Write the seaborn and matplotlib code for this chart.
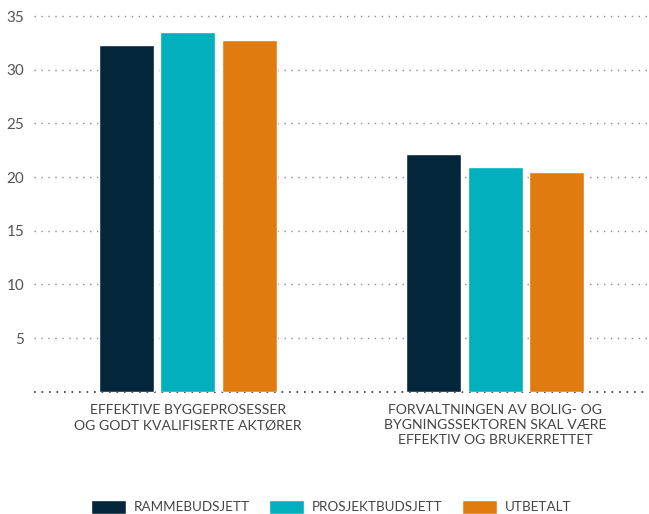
import matplotlib
matplotlib.use("Agg")
import matplotlib.pyplot as plt
import seaborn as sns
import pandas as pd

categories = [
    "EFFEKTIVE BYGGEPROSESSER\nOG GODT KVALIFISERTE AKTØRER",
    "FORVALTNINGEN AV BOLIG- OG\nBYGNINGSSEKTOREN SKAL VÆRE\nEFFEKTIV OG BRUKERRETTET",
]
series = ["RAMMEBUDSJETT", "PROSJEKTBUDSJETT", "UTBETALT"]
rammebudsjett = [32.3, 22.1]
prosjektbudsjett = [33.5, 20.9]
utbetalt = [32.8, 20.5]
y_ticks = [5, 10, 15, 20, 25, 30, 35]
colors = ["#03263b", "#01afbd", "#e07b10"]

df = pd.DataFrame({
    "kategori": categories * 3,
    "serie": [s for s in series for _ in categories],
    "verdi": rammebudsjett + prosjektbudsjett + utbetalt,
})

sns.set_theme(style="white")
plt.rcParams["font.family"] = ["Lato", "DejaVu Sans"]

fig = plt.figure(figsize=(6.49, 5.14), dpi=100)
ax = fig.add_axes([34 / 649, 1 - 391.7 / 514, 1 - 34 / 649, (391.7 - 16) / 514])

sns.barplot(data=df, x="kategori", y="verdi", hue="serie", hue_order=series,
            palette=colors, width=0.6, gap=0.1, saturation=1, ax=ax,
            legend=True, zorder=3)

ax.set_xlim(-0.5, 1.5)
ax.set_ylim(0, 35)
ax.set_yticks(y_ticks)
ax.set_yticklabels([str(v) for v in y_ticks])
ax.set_xlabel("")
ax.set_ylabel("")
for s in ax.spines.values():
    s.set_visible(False)

for v in y_ticks:
    ax.axhline(v, color="#8a8a8a", lw=1.0, linestyle=(0, (1, 4)),
               dash_capstyle="butt", zorder=1, clip_on=False)
ax.axhline(0, color="#333333", lw=1.2, linestyle=(0, (1, 3.5)),
           dash_capstyle="butt", zorder=1, clip_on=False)

ax.tick_params(axis="y", length=0, pad=7, labelsize=11, labelcolor="#555555")
ax.tick_params(axis="x", length=0, pad=9, labelsize=10.1, labelcolor="#444444")
for lab in ax.get_xticklabels():
    lab.set_linespacing(1.3)

ax.get_legend().remove()
handles, labels = ax.get_legend_handles_labels()
fs = 9.7
px = fs * 100 / 72
fig.legend(handles, labels, loc="center", bbox_to_anchor=(0.51, 0.014), ncol=3,
           frameon=False, fontsize=fs, labelcolor="#444444",
           handlelength=35 / px, handleheight=16 / px, handletextpad=8 / px,
           columnspacing=19 / px, borderaxespad=0)

fig.savefig("out.png", dpi=100)
